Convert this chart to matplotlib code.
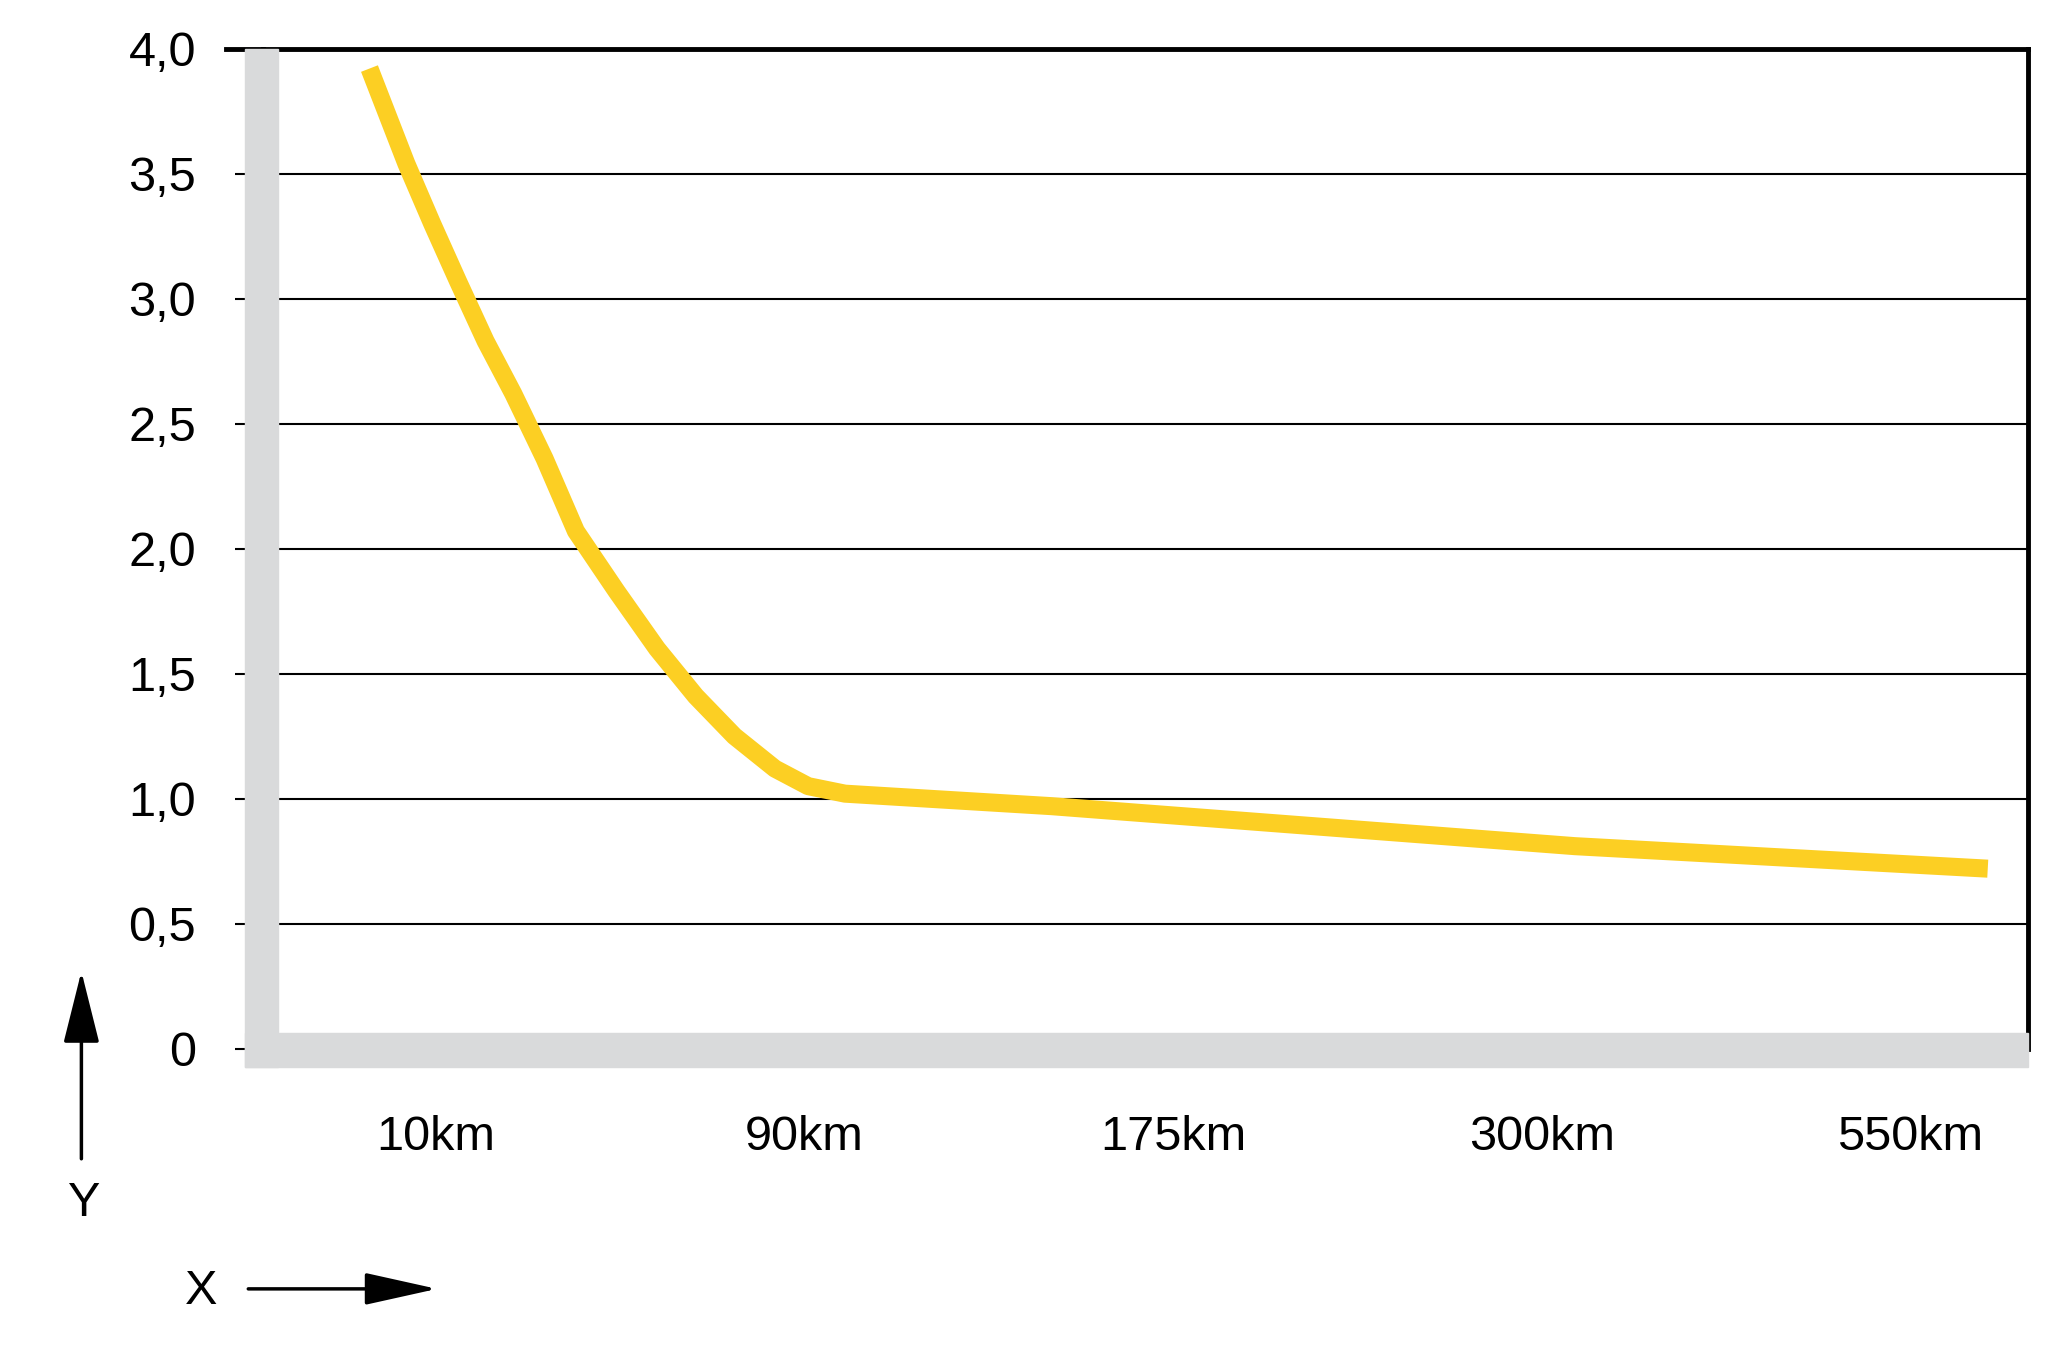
import matplotlib
matplotlib.use("Agg")
import matplotlib.pyplot as plt
from matplotlib.patches import Rectangle, FancyArrowPatch

# data
categories = ["10km", "90km", "175km", "300km", "550km"]
yticks = [0, 0.5, 1.0, 1.5, 2.0, 2.5, 3.0, 3.5, 4.0]
ytick_labels = ["0", "0,5", "1,0", "1,5", "2,0", "2,5", "3,0", "3,5", "4,0"]
curve_x = [-0.18, -0.08, -0.01, 0.06, 0.135, 0.21, 0.295, 0.38, 0.49, 0.60, 0.705,
           0.81, 0.92, 1.01, 1.11, 1.67, 2.38, 3.09, 4.21]
curve_y = [3.92, 3.54, 3.30, 3.07, 2.83, 2.62, 2.36, 2.07, 1.83, 1.60, 1.41,
           1.25, 1.12, 1.05, 1.02, 0.97, 0.89, 0.81, 0.72]

plt.rcParams['font.family'] = ['Liberation Sans', 'DejaVu Sans']
W, H = 1560.0, 1040.0
def fx(x): return x / W
def fy(y): return 1 - y / H

fig = plt.figure(figsize=(20.48, 13.65), dpi=100)
ax = fig.add_axes([fx(200), fy(799), fx(1545) - fx(200), fy(37) - fy(799)])
ax.set_xlim(-0.47, 4.32)
ax.set_ylim(0, 4)

for v in yticks[1:-1]:
    ax.axhline(v, color='black', lw=1.5, zorder=1)
ax.plot(curve_x, curve_y, color='#fccf23', lw=13, solid_capstyle='butt',
        solid_joinstyle='round', zorder=3)

for s in ['left', 'bottom']:
    ax.spines[s].set_visible(False)
ax.spines['top'].set_linewidth(3.5)
ax.spines['right'].set_linewidth(3.5)

ax.set_xticks(range(len(categories)))
ax.set_xticklabels(categories, fontsize=35)
ax.tick_params(axis='x', length=0, pad=48)
ax.set_yticks(yticks)
ax.set_yticklabels(ytick_labels, fontsize=35)
ax.tick_params(axis='y', length=20, width=1.5, pad=28)

# gray L frame
gray = '#d9dadb'
fig.patches.append(Rectangle((fx(187), fy(813)), fx(212) - fx(187), fy(37) - fy(813),
                             transform=fig.transFigure, color=gray, zorder=2))
fig.patches.append(Rectangle((fx(187), fy(813)), fx(1545) - fx(187), fy(787) - fy(813),
                             transform=fig.transFigure, color=gray, zorder=2))
fig.add_artist(plt.Line2D([fx(172), fx(200)], [fy(37), fy(37)], color='black', lw=3.5,
                          transform=fig.transFigure))

# axis direction arrows
fig.add_artist(FancyArrowPatch((fx(62), fy(885)), (fx(62), fy(738)),
               transform=fig.transFigure, arrowstyle='-|>,head_length=1.8,head_width=0.45',
               mutation_scale=25, lw=2.5, color='black'))
fig.text(fx(64), fy(917), "Y", fontsize=35, ha='center', va='center')
fig.add_artist(FancyArrowPatch((fx(187), fy(982)), (fx(335), fy(982)),
               transform=fig.transFigure, arrowstyle='-|>,head_length=1.8,head_width=0.4',
               mutation_scale=25, lw=2.5, color='black'))
fig.text(fx(153), fy(984), "X", fontsize=35, ha='center', va='center')

fig.savefig("out.png", dpi=100)
